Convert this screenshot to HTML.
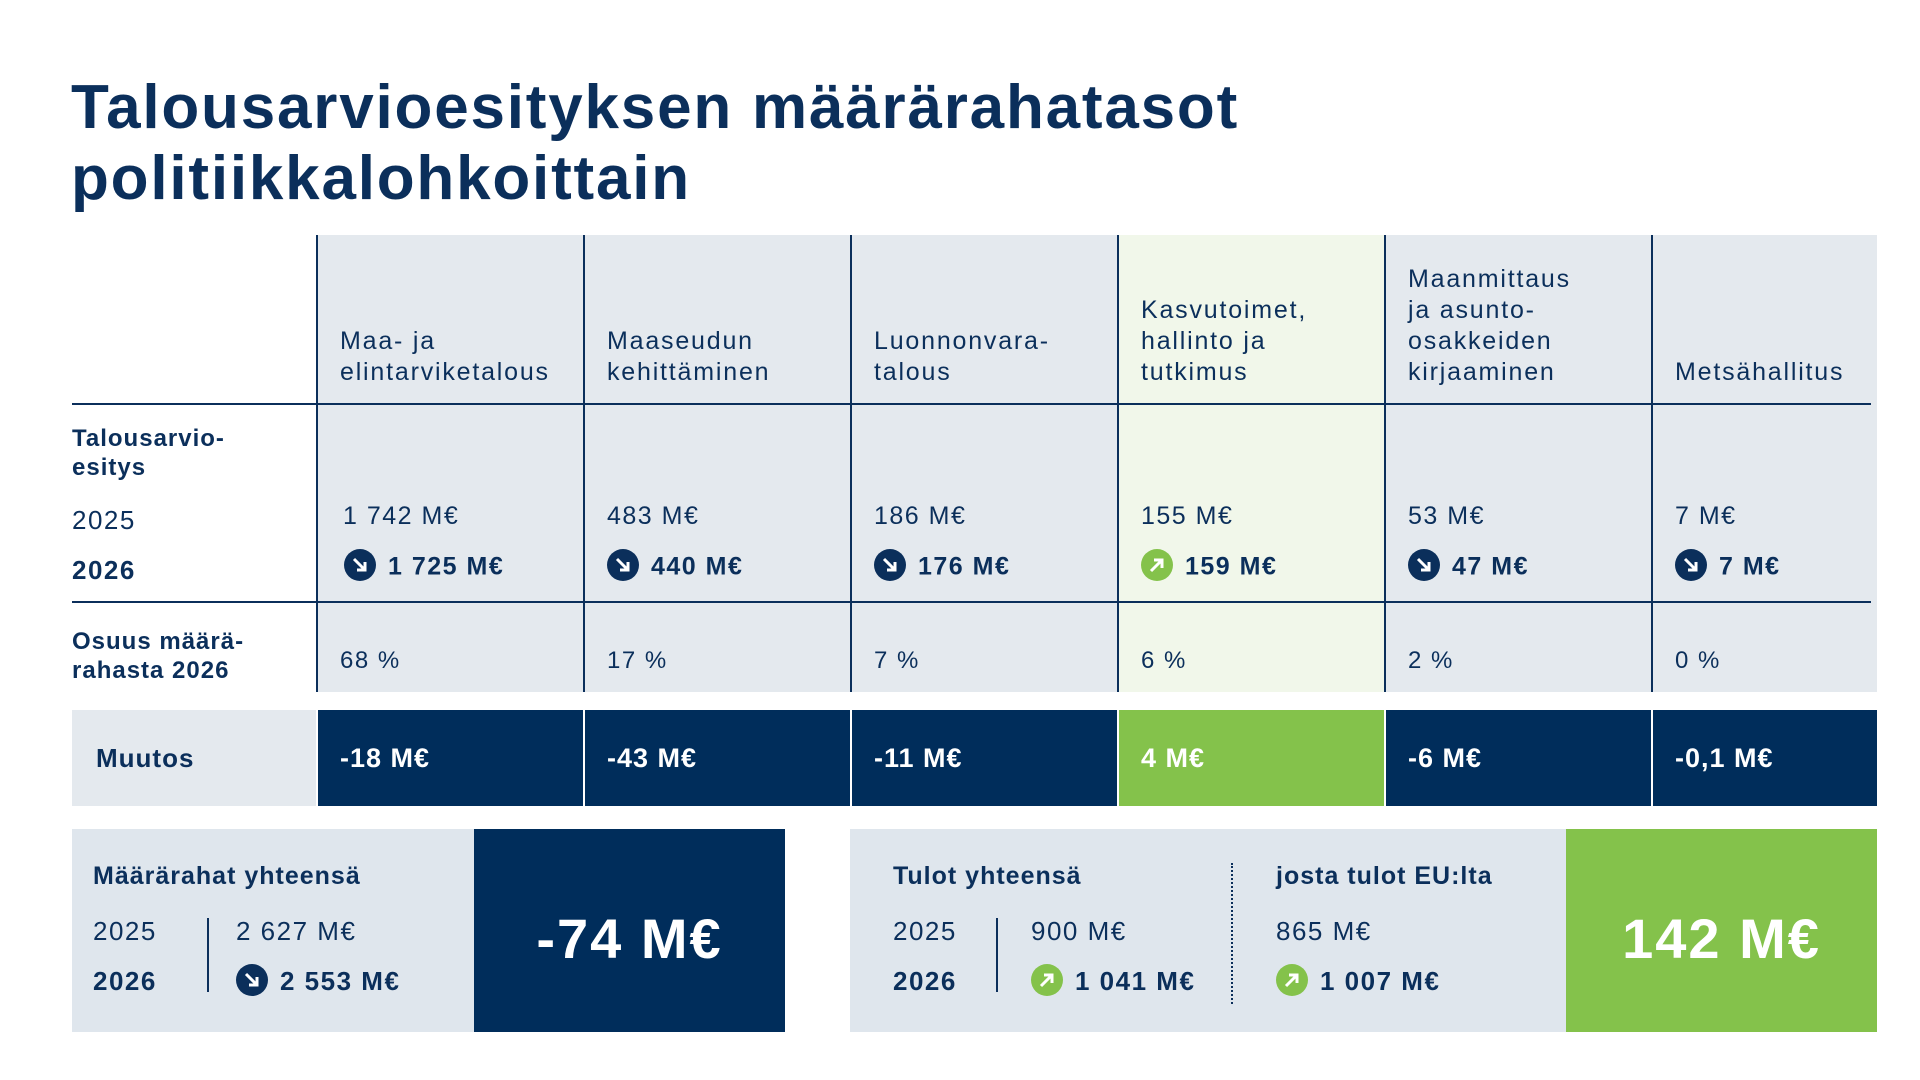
<!DOCTYPE html>
<html><head><meta charset="utf-8"><style>
*{margin:0;padding:0;box-sizing:border-box}
body{width:1920px;height:1080px;background:#fff;position:relative;overflow:hidden;font-family:"Liberation Sans",sans-serif;color:#0b2f5b}
.a{position:absolute;white-space:nowrap;letter-spacing:1.5px}
.t{font-weight:bold;font-size:62px;left:71px;line-height:72px;letter-spacing:1.8px}
.col{position:absolute;top:235px;height:457px;width:267px;background:#e4e9ee;border-left:2px solid #0b2f5b}
.h{font-size:25px;line-height:31px;letter-spacing:1.8px}
.b{font-weight:bold}
.ic{display:inline-block;width:32px;height:32px;border-radius:50%;vertical-align:middle;margin-right:12px;position:relative;top:-3px}
.ic svg{width:32px;height:32px;display:block}
.m{position:absolute;top:710px;height:96px;width:265px;background:#002d5b;color:#fff;font-weight:bold;font-size:27px;line-height:96px;padding-left:22px;letter-spacing:1px}
</style></head><body>
<div class="a t" style="top:72px">Talousarvioesityksen määrärahatasot</div>
<div class="a t" style="top:143px">politiikkalohkoittain</div>

<div class="col" style="left:316px"></div>
<div class="col" style="left:583px"></div>
<div class="col" style="left:850px"></div>
<div class="col" style="left:1117px;background:#f1f7ea"></div>
<div class="col" style="left:1384px"></div>
<div class="col" style="left:1651px;width:226px"></div>
<div class="a" style="left:72px;top:403px;width:1799px;height:2px;background:#0b2f5b"></div>
<div class="a" style="left:72px;top:601px;width:1799px;height:2px;background:#0b2f5b"></div>

<div class="a h" style="left:340px;top:326px">Maa- ja<br>elintarviketalous</div>
<div class="a h" style="left:607px;top:326px">Maaseudun<br>kehittäminen</div>
<div class="a h" style="left:874px;top:326px">Luonnonvara-<br>talous</div>
<div class="a h" style="left:1141px;top:295px">Kasvutoimet,<br>hallinto ja<br>tutkimus</div>
<div class="a h" style="left:1408px;top:264px">Maanmittaus<br>ja asunto-<br>osakkeiden<br>kirjaaminen</div>
<div class="a h" style="left:1675px;top:357px">Metsähallitus</div>

<div class="a b" style="left:72px;top:424px;font-size:24px;line-height:29px;letter-spacing:1px">Talousarvio-<br>esitys</div>
<div class="a" style="left:72px;top:505px;font-size:26px">2025</div>
<div class="a b" style="left:72px;top:555px;font-size:26px">2026</div>
<div class="a b" style="left:72px;top:627px;font-size:24px;line-height:29px;letter-spacing:1px">Osuus määrä-<br>rahasta 2026</div>

<svg width="0" height="0" style="position:absolute"><defs>
<symbol id="dn" viewBox="0 0 32 32"><circle cx="16" cy="16" r="16" fill="#0b2f5b"/><path d="M10 10 L21 21 M21 13 V21 H13" stroke="#fff" stroke-width="3" fill="none"/></symbol>
<symbol id="up" viewBox="0 0 32 32"><circle cx="16" cy="16" r="16" fill="#84c24b"/><path d="M10 22 L21 11 M13 11 H21 V19" stroke="#fff" stroke-width="3" fill="none"/></symbol>
</defs></svg>

<div class="a" style="left:343px;top:502px;font-size:25px">1 742 M€</div>
<div class="a" style="left:607px;top:502px;font-size:25px">483 M€</div>
<div class="a" style="left:874px;top:502px;font-size:25px">186 M€</div>
<div class="a" style="left:1141px;top:502px;font-size:25px">155 M€</div>
<div class="a" style="left:1408px;top:502px;font-size:25px">53 M€</div>
<div class="a" style="left:1675px;top:502px;font-size:25px">7 M€</div>

<div class="a b" style="left:344px;top:552px;font-size:25px"><span class="ic"><svg><use href="#dn"/></svg></span>1 725 M€</div>
<div class="a b" style="left:607px;top:552px;font-size:25px"><span class="ic"><svg><use href="#dn"/></svg></span>440 M€</div>
<div class="a b" style="left:874px;top:552px;font-size:25px"><span class="ic"><svg><use href="#dn"/></svg></span>176 M€</div>
<div class="a b" style="left:1141px;top:552px;font-size:25px"><span class="ic"><svg><use href="#up"/></svg></span>159 M€</div>
<div class="a b" style="left:1408px;top:552px;font-size:25px"><span class="ic"><svg><use href="#dn"/></svg></span>47 M€</div>
<div class="a b" style="left:1675px;top:552px;font-size:25px"><span class="ic"><svg><use href="#dn"/></svg></span>7 M€</div>

<div class="a" style="left:340px;top:647px;font-size:24px">68 %</div>
<div class="a" style="left:607px;top:647px;font-size:24px">17 %</div>
<div class="a" style="left:874px;top:647px;font-size:24px">7 %</div>
<div class="a" style="left:1141px;top:647px;font-size:24px">6 %</div>
<div class="a" style="left:1408px;top:647px;font-size:24px">2 %</div>
<div class="a" style="left:1675px;top:647px;font-size:24px">0 %</div>

<div class="a b" style="left:72px;top:710px;width:244px;height:96px;background:#e4e9ee;font-size:26px;line-height:96px;padding-left:24px;letter-spacing:1px">Muutos</div>
<div class="m" style="left:318px">-18 M€</div>
<div class="m" style="left:585px">-43 M€</div>
<div class="m" style="left:852px">-11 M€</div>
<div class="m" style="left:1119px;background:#84c24b">4 M€</div>
<div class="m" style="left:1386px">-6 M€</div>
<div class="m" style="left:1653px;width:224px">-0,1 M€</div>

<div class="a" style="left:72px;top:829px;width:402px;height:203px;background:#dfe6ed"></div>
<div class="a b" style="left:474px;top:829px;width:311px;height:203px;background:#002d5b;color:#fff;font-size:56px;line-height:220px;text-align:center;letter-spacing:2px">-74 M€</div>
<div class="a b" style="left:93px;top:862px;font-size:25px;letter-spacing:1px">Määrärahat yhteensä</div>
<div class="a" style="left:93px;top:916px;font-size:26px">2025</div>
<div class="a b" style="left:93px;top:966px;font-size:26px">2026</div>
<div class="a" style="left:207px;top:918px;width:2px;height:74px;background:#0b2f5b"></div>
<div class="a" style="left:236px;top:916px;font-size:26px">2 627 M€</div>
<div class="a b" style="left:236px;top:966px;font-size:26px"><span class="ic"><svg><use href="#dn"/></svg></span>2 553 M€</div>

<div class="a" style="left:850px;top:829px;width:716px;height:203px;background:#dfe6ed"></div>
<div class="a b" style="left:1566px;top:829px;width:311px;height:203px;background:#84c24b;color:#fff;font-size:56px;line-height:220px;text-align:center;letter-spacing:2px">142 M€</div>
<div class="a b" style="left:893px;top:862px;font-size:25px;letter-spacing:1px">Tulot yhteensä</div>
<div class="a" style="left:893px;top:916px;font-size:26px">2025</div>
<div class="a b" style="left:893px;top:966px;font-size:26px">2026</div>
<div class="a" style="left:996px;top:918px;width:2px;height:74px;background:#0b2f5b"></div>
<div class="a" style="left:1031px;top:916px;font-size:26px">900 M€</div>
<div class="a b" style="left:1031px;top:966px;font-size:26px"><span class="ic"><svg><use href="#up"/></svg></span>1 041 M€</div>
<div class="a" style="left:1231px;top:863px;width:0;height:141px;border-left:2px dotted #0b2f5b"></div>
<div class="a b" style="left:1276px;top:862px;font-size:25px;letter-spacing:1px">josta tulot EU:lta</div>
<div class="a" style="left:1276px;top:916px;font-size:26px">865 M€</div>
<div class="a b" style="left:1276px;top:966px;font-size:26px"><span class="ic"><svg><use href="#up"/></svg></span>1 007 M€</div>
</body></html>
